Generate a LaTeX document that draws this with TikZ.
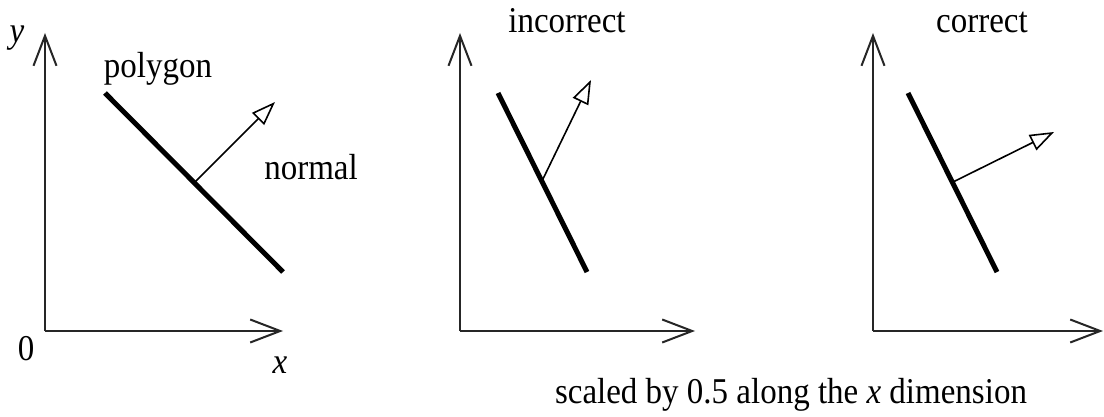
\documentclass[tikz,border=0pt]{standalone}
\usepackage{fontspec}
\setmainfont{Liberation Serif}
\usetikzlibrary{arrows.meta}
\newcommand{\TT}[1]{\scalebox{1}[1.1]{#1}}
\begin{document}
\begin{tikzpicture}[x=1pt,y=-1pt,
  axis/.style={line width=2pt,draw=black!85,-{Straight Barb[length=30pt,width=23pt,line width=2pt]}},
  poly/.style={line width=5pt},
  normalvec/.style={line width=1.6pt,-{Triangle[open,length=24pt,width=17pt,line width=1.6pt]}},
  lbl/.style={font=\fontsize{33}{40}\selectfont,inner sep=0pt,anchor=base}]
\useasboundingbox (0,0) rectangle (1104,417);
% panel 1
\coordinate (O1) at (45,331);
\coordinate (Y1) at (45,33);
\coordinate (X1) at (283,331);
\coordinate (P1a) at (105,93);
\coordinate (P1b) at (283,272);
\coordinate (N1a) at (195,182);
\coordinate (N1b) at (275,102);
\draw[axis] (O1) -- (Y1);
\draw[axis] (O1) -- (X1);
\draw[poly] (P1a) -- (P1b);
\draw[normalvec] (N1a) -- (N1b);
\node[lbl] (ly) at (17,43) {\TT{\textit{y}}};
\node[lbl] (lpoly) at (158,78) {\TT{polygon}};
\node[lbl] (lnorm) at (311,180) {\TT{normal}};
\node[lbl] (l0) at (26,360) {\TT{0}};
\node[lbl] (lx) at (280,373) {\TT{\textit{x}}};
% panel 2
\coordinate (O2) at (460,331);
\coordinate (Y2) at (460,33);
\coordinate (X2) at (695,331);
\coordinate (P2a) at (498,93);
\coordinate (P2b) at (587,272);
\coordinate (N2a) at (542,181);
\coordinate (N2b) at (591,80);
\draw[axis] (O2) -- (Y2);
\draw[axis] (O2) -- (X2);
\draw[poly] (P2a) -- (P2b);
\draw[normalvec] (N2a) -- (N2b);
\node[lbl] (linc) at (567,33) {\TT{incorrect}};
% panel 3
\coordinate (O3) at (873,331);
\coordinate (Y3) at (873,33);
\coordinate (X3) at (1103,331);
\coordinate (P3a) at (908,93);
\coordinate (P3b) at (997,272);
\coordinate (N3a) at (953,182);
\coordinate (N3b) at (1054,132);
\draw[axis] (O3) -- (Y3);
\draw[axis] (O3) -- (X3);
\draw[poly] (P3a) -- (P3b);
\draw[normalvec] (N3a) -- (N3b);
\node[lbl] (lcor) at (982,33) {\TT{correct}};
% caption
\node[lbl] (cap) at (791,403) {\TT{scaled by 0.5 along the \textit{x} dimension}};
\end{tikzpicture}
\end{document}
